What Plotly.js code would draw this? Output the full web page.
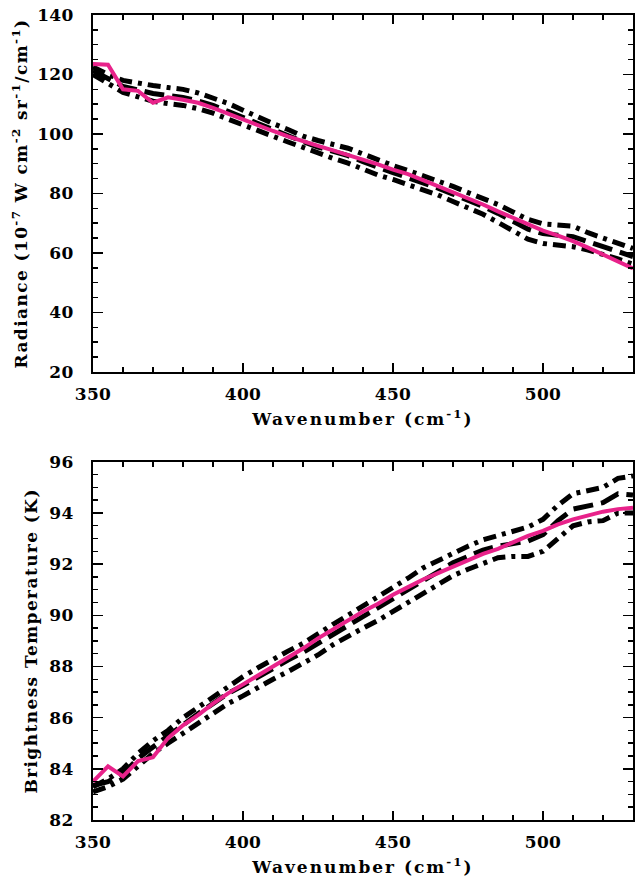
<!DOCTYPE html>
<html><head><meta charset="utf-8">
<script src="https://cdn.plot.ly/plotly-3.0.1.min.js"></script>
<style>
body{margin:0;padding:0;background:#fff}
#chart{width:636px;height:890px}
.xtitle,.x2title{letter-spacing:2px}
.ytitle,.y2title{letter-spacing:1.4px}
.xtick text,.ytick text,.x2tick text,.y2tick text{letter-spacing:0.3px}
</style>
</head><body>
<div id="chart"></div>
<script>
const wavenumber = [350,355,360,365,370,375,380,385,390,395,400,405,410,415,420,425,430,435,440,445,450,455,460,465,470,475,480,485,490,495,500,505,510,515,520,525,530];

// Radiance (1e-7 W cm^-2 sr^-1 / cm^-1)
const radUpper = [122.5,120,118,117,116.3,115.6,115,113.8,112.2,110.3,108,105.6,103.5,101.5,99.3,97.8,96.6,95.2,93.3,91.2,89.4,87.7,86,84.2,82.4,80.3,78.5,76.3,73.8,71.3,69.8,69.5,69,66.8,65,63.5,61.5];
const radMid   = [121.3,118.5,116,114.8,113.6,112.9,112.3,111.1,109.6,107.6,105.5,103.4,101.4,99.4,97.4,95.6,94.2,92.7,90.7,88.7,87,85.3,83.7,81.8,79.8,77.8,75.7,73.3,70.7,68,66.5,66,65.5,63.8,62.2,60.6,58.8];
const radLower = [120,117,114,112.5,111,110.2,109.6,108.5,107,105,103,101.2,99.3,97.3,95.5,93.5,91.8,90.2,88,86.2,84.7,83,81.5,79.5,77.3,75.3,73,70.3,67.6,64.6,63.2,62.6,62.1,61,59.6,58,56.2];
const radObs   = [123.5,123.3,115,114.5,110.5,112.3,111.5,110.5,108.8,106.8,104.8,103,101,99.2,97.5,96,94.5,93,91.5,89.8,88,86.5,84.5,82.5,80.6,78.5,76.3,74,71.8,69.5,67.5,65.8,64,61.8,59.5,57,54.8];

// Brightness temperature (K)
const tbUpper = [83.3,83.6,84.0,84.6,85.1,85.5,86.0,86.4,86.85,87.25,87.6,87.95,88.3,88.6,88.9,89.3,89.65,90.0,90.35,90.7,91.05,91.45,91.85,92.15,92.45,92.7,92.95,93.1,93.25,93.45,93.75,94.3,94.75,94.9,95.0,95.35,95.45];
const tbMid   = [83.35,83.5,83.8,84.4,84.85,85.3,85.75,86.15,86.55,86.95,87.25,87.6,87.95,88.25,88.55,88.9,89.3,89.65,90.0,90.3,90.65,91.0,91.4,91.75,92.05,92.3,92.55,92.7,92.8,92.9,93.15,93.7,94.15,94.3,94.4,94.75,94.7];
const tbLower = [83.1,83.3,83.6,84.1,84.6,85.0,85.4,85.8,86.2,86.55,86.85,87.2,87.5,87.8,88.1,88.45,88.85,89.2,89.5,89.8,90.15,90.5,90.9,91.25,91.55,91.8,92.05,92.25,92.3,92.3,92.5,93.0,93.5,93.65,93.7,94.0,94.0];
const tbObs   = [83.5,84.1,83.7,84.3,84.45,85.2,85.7,86.1,86.55,86.95,87.3,87.65,88.0,88.35,88.7,89.1,89.45,89.8,90.15,90.45,90.8,91.1,91.4,91.65,91.9,92.15,92.4,92.6,92.85,93.1,93.3,93.55,93.75,93.9,94.05,94.15,94.2];

const xTitle = 'Wavenumber (cm<sup>-1</sup>)';
const yTitleTop = 'Radiance (10<sup>-7</sup> W cm<sup>-2</sup> sr<sup>-1</sup>/cm<sup>-1</sup>)';
const yTitleBot = 'Brightness Temperature (K)';

const PINK = '#e8228a';
const DASHDOT = '13px,6px,4px,6px';
const DASHED = '20px,8px';

function black(x, y, dash, xa, ya){
  return {x:x, y:y, xaxis:xa, yaxis:ya, mode:'lines', showlegend:false, hoverinfo:'skip',
    line:{color:'#000', width:5, dash:dash}};
}
function pink(x, y, xa, ya){
  return {x:x, y:y, xaxis:xa, yaxis:ya, mode:'lines', showlegend:false, hoverinfo:'skip',
    line:{color:PINK, width:4}};
}

const traces = [
  black(wavenumber, radUpper, DASHDOT, 'x', 'y'),
  black(wavenumber, radLower, DASHDOT, 'x', 'y'),
  black(wavenumber, radMid, DASHED, 'x', 'y'),
  pink(wavenumber, radObs, 'x', 'y'),
  black(wavenumber, tbUpper, DASHDOT, 'x2', 'y2'),
  black(wavenumber, tbLower, DASHDOT, 'x2', 'y2'),
  black(wavenumber, tbMid, DASHED, 'x2', 'y2'),
  pink(wavenumber, tbObs, 'x2', 'y2')
];

const FONT = {family:'DejaVu Serif, serif', size:17, color:'#000', weight:'bold'};

function xax(anchor){
  return {
    anchor: anchor, range:[350,530], dtick:50, tick0:350,
    ticks:'inside', ticklen:9, tickwidth:1.5, tickcolor:'#000',
    minor:{dtick:10, ticks:'inside', ticklen:5, tickwidth:1.5, tickcolor:'#000'},
    showline:true, linecolor:'#000', linewidth:2, mirror:'ticks',
    showgrid:false, zeroline:false,
    tickfont:FONT, ticklabelstandoff:6,
    title:{text:xTitle, font:FONT, standoff:10}
  };
}

const layout = {
  width:636, height:890,
  margin:{l:93, r:3, t:15, b:70},
  paper_bgcolor:'#fff', plot_bgcolor:'#fff',
  font:FONT,
  xaxis: xax('y'),
  yaxis: {
    domain:[0.5566,1], anchor:'x', range:[20,140], dtick:20,
    ticks:'inside', ticklen:10, tickwidth:1.5, tickcolor:'#000',
    minor:{dtick:5, ticks:'inside', ticklen:5, tickwidth:1.5, tickcolor:'#000'},
    showline:true, linecolor:'#000', linewidth:2, mirror:'ticks',
    showgrid:false, zeroline:false,
    tickfont:FONT, ticklabelstandoff:14,
    title:{text:yTitleTop, font:FONT, standoff:5}
  },
  xaxis2: xax('y2'),
  yaxis2: {
    domain:[0,0.445], anchor:'x2', range:[82,96], dtick:2,
    ticks:'inside', ticklen:10, tickwidth:1.5, tickcolor:'#000',
    minor:{dtick:0.5, ticks:'inside', ticklen:5, tickwidth:1.5, tickcolor:'#000'},
    showline:true, linecolor:'#000', linewidth:2, mirror:'ticks',
    showgrid:false, zeroline:false,
    tickfont:FONT, ticklabelstandoff:14,
    title:{text:yTitleBot, font:FONT, standoff:7}
  }
};

Plotly.newPlot('chart', traces, layout, {staticPlot:true, displayModeBar:false});
</script>
</body></html>
